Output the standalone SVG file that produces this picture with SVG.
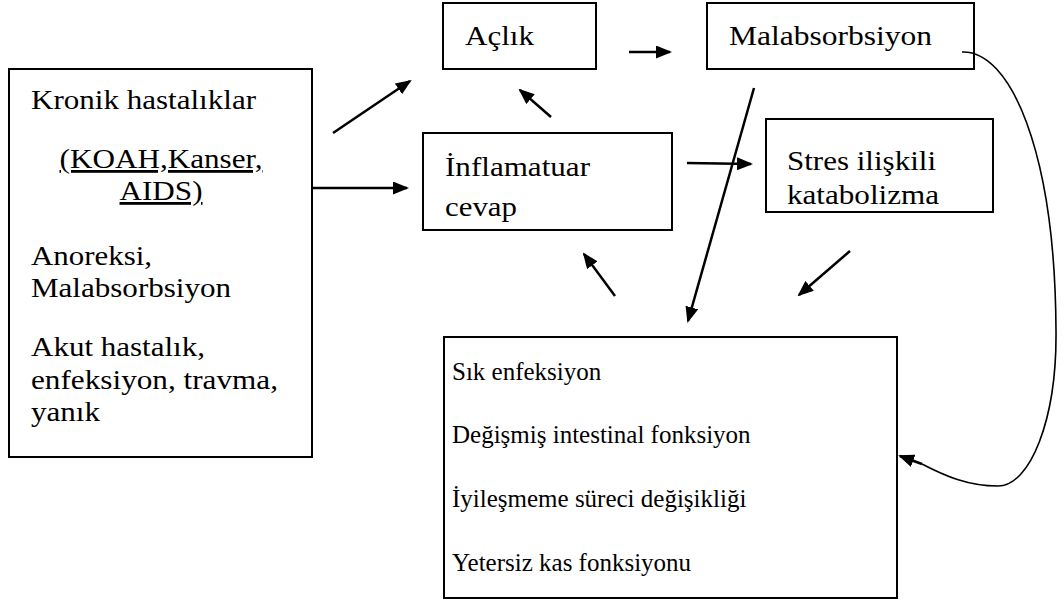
<svg xmlns="http://www.w3.org/2000/svg" width="1064" height="612" viewBox="0 0 1064 612">
<style>
.box{fill:#fff;stroke:#000;stroke-width:2}
.t{font-family:"Liberation Serif","Times New Roman",serif;font-size:28px;fill:#000}
.tb{font-family:"Liberation Serif","Times New Roman",serif;font-size:25px;fill:#000}
.c{stroke:#000;stroke-width:2.5;fill:none}
.cv{stroke:#000;stroke-width:1.6;fill:none}
</style>
<defs>
<marker id="ah" viewBox="0 0 16 13" refX="14" refY="6.5" markerWidth="16" markerHeight="13" markerUnits="userSpaceOnUse" orient="auto">
<path d="M0,0 L16,6.5 L0,13 Z" fill="#000"/>
</marker>
</defs>
<rect width="1064" height="612" fill="#fff"/>
<g id="node-kronik">
<rect class="box" x="9" y="69" width="303" height="388"/>
<text class="t" x="31" y="109" textLength="225" lengthAdjust="spacingAndGlyphs">Kronik hastalıklar</text>
<text class="t" x="161" y="168" text-anchor="middle" text-decoration="underline" textLength="203" lengthAdjust="spacingAndGlyphs">(KOAH,Kanser,</text>
<text class="t" x="161" y="200" text-anchor="middle" text-decoration="underline" textLength="83" lengthAdjust="spacingAndGlyphs">AIDS)</text>
<text class="t" x="31" y="265" textLength="121" lengthAdjust="spacingAndGlyphs">Anoreksi,</text>
<text class="t" x="31" y="297" textLength="200" lengthAdjust="spacingAndGlyphs">Malabsorbsiyon</text>
<text class="t" x="31" y="356" textLength="174" lengthAdjust="spacingAndGlyphs">Akut hastalık,</text>
<text class="t" x="31" y="389" textLength="247" lengthAdjust="spacingAndGlyphs">enfeksiyon, travma,</text>
<text class="t" x="31" y="421" textLength="69" lengthAdjust="spacingAndGlyphs">yanık</text>
</g>
<g id="node-aclik">
<rect class="box" x="443" y="3" width="153" height="66"/>
<text class="t" x="465" y="45" textLength="69" lengthAdjust="spacingAndGlyphs">Açlık</text>
</g>
<g id="node-malabsorbsiyon">
<rect class="box" x="707" y="3" width="267" height="66"/>
<text class="t" x="729" y="45" textLength="203" lengthAdjust="spacingAndGlyphs">Malabsorbsiyon</text>
</g>
<g id="node-inflamatuar">
<rect class="box" x="423" y="133" width="249" height="97"/>
<text class="t" x="445" y="176" textLength="145" lengthAdjust="spacingAndGlyphs">İnflamatuar</text>
<text class="t" x="445" y="216" textLength="72" lengthAdjust="spacingAndGlyphs">cevap</text>
</g>
<g id="node-stres">
<rect class="box" x="766" y="119" width="227" height="93"/>
<text class="t" x="787" y="170" textLength="149" lengthAdjust="spacingAndGlyphs">Stres ilişkili</text>
<text class="t" x="787" y="204" textLength="152" lengthAdjust="spacingAndGlyphs">katabolizma</text>
</g>
<g id="node-sonuc">
<rect class="box" x="444" y="337" width="453" height="261"/>
<text class="tb" x="452" y="380">Sık enfeksiyon</text>
<text class="tb" x="452" y="443">Değişmiş intestinal fonksiyon</text>
<text class="tb" x="452" y="507">İyileşmeme süreci değişikliği</text>
<text class="tb" x="452" y="571">Yetersiz kas fonksiyonu</text>
</g>
<g id="connectors">
<line class="c" x1="333" y1="133" x2="410" y2="81" marker-end="url(#ah)"/>
<line class="c" x1="312" y1="188" x2="407" y2="188" marker-end="url(#ah)"/>
<line class="c" x1="629" y1="52" x2="670" y2="52" marker-end="url(#ah)"/>
<line class="c" x1="551" y1="117" x2="520" y2="90" marker-end="url(#ah)"/>
<line class="c" x1="615" y1="296" x2="584" y2="254" marker-end="url(#ah)"/>
<line class="c" x1="687" y1="163" x2="751" y2="164" marker-end="url(#ah)"/>
<line class="c" x1="754" y1="88" x2="688" y2="321" marker-end="url(#ah)"/>
<line class="c" x1="850" y1="251" x2="799" y2="295" marker-end="url(#ah)"/>
<path class="cv" d="M962,52 C1010,50 1055,150 1056,330 C1057,420 1030,486 998,486 C968,486 945,476 922,464"/>
<line class="c" x1="922" y1="464" x2="900" y2="456" marker-end="url(#ah)"/>
</g>
</svg>
